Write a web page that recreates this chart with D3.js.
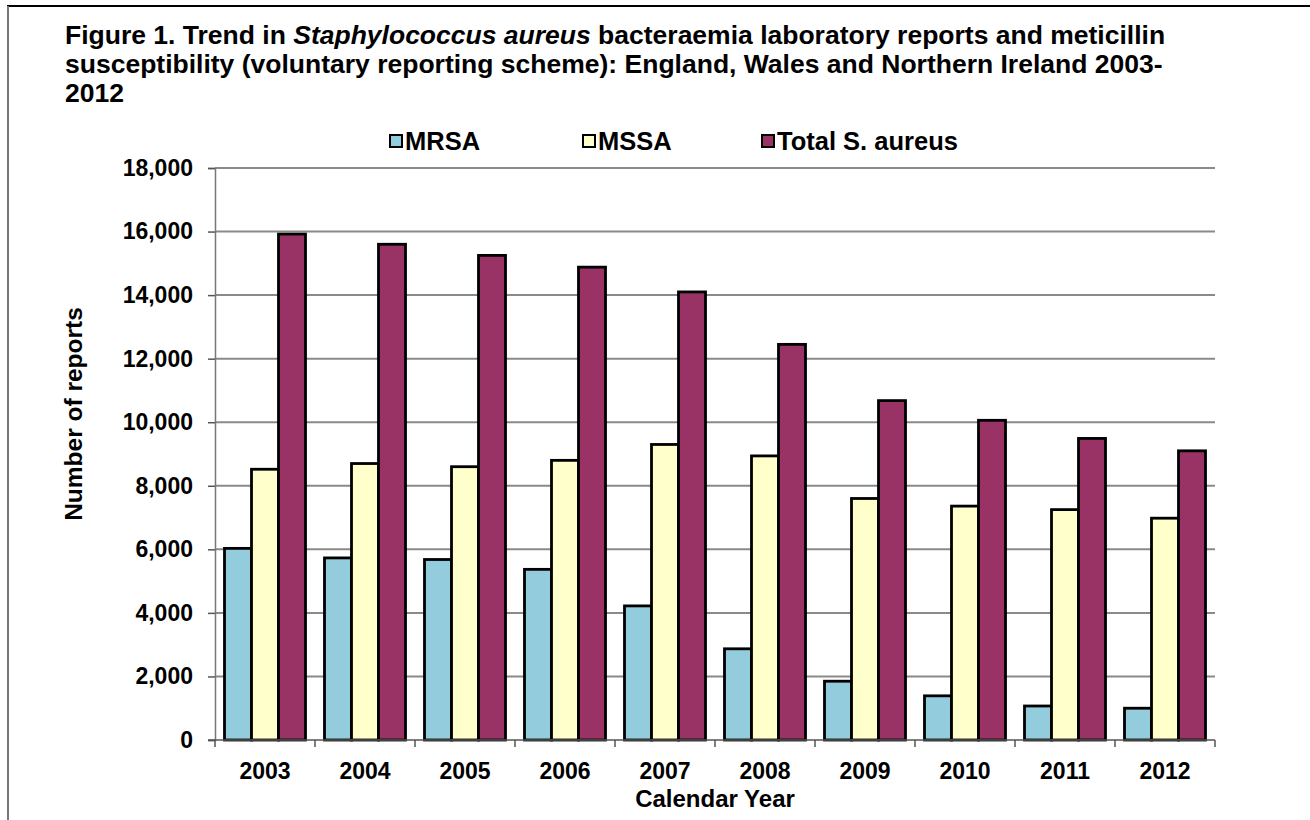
<!DOCTYPE html>
<html>
<head>
<meta charset="utf-8">
<script src="https://cdn.jsdelivr.net/npm/d3@7"></script>
<style>
  body { margin: 0; background: #fff; }
  text { font-family: "Liberation Sans", Arial, sans-serif; font-weight: bold; }
</style>
</head>
<body>
<div id="chart"></div>
<script>
// ---- data ----
const years = ["2003", "2004", "2005", "2006", "2007", "2008", "2009", "2010", "2011", "2012"];
const seriesNames = ["MRSA", "MSSA", "Total S. aureus"];
const mrsa  = [6030, 5730, 5680, 5370, 4220, 2870, 1850, 1390, 1070, 1000];
const mssa  = [8520, 8700, 8600, 8800, 9300, 8940, 7600, 7360, 7250, 6980];
const total = [15920, 15600, 15250, 14880, 14100, 12450, 10680, 10060, 9490, 9100];
const yTicks = [0, 2000, 4000, 6000, 8000, 10000, 12000, 14000, 16000, 18000];
const colors = ["#93cddd", "#ffffcc", "#993366"];

const W = 1310, H = 820;
const margin = {top: 168, right: 95, bottom: 80, left: 215};
const innerW = W - margin.left - margin.right;
const innerH = H - margin.top - margin.bottom;

const svg = d3.select("#chart").append("svg")
    .attr("width", W).attr("height", H);

// outer frame (only top and left edges are inside the picture)
svg.append("line").attr("x1", 7).attr("x2", W).attr("y1", 6).attr("y2", 6)
    .attr("stroke", "#000").attr("stroke-width", 2);
svg.append("line").attr("x1", 8).attr("x2", 8).attr("y1", 6).attr("y2", H)
    .attr("stroke", "#777").attr("stroke-width", 2);

// title
const titleSize = "26.5px";
const title = svg.append("text").attr("x", 65).attr("y", 44).style("font-size", titleSize);
title.append("tspan").text("Figure 1. Trend in ");
title.append("tspan").style("font-style", "italic").text("Staphylococcus aureus");
title.append("tspan").text(" bacteraemia laboratory reports and meticillin");
svg.append("text").attr("x", 65).attr("y", 73).style("font-size", titleSize)
    .text("susceptibility (voluntary reporting scheme): England, Wales and Northern Ireland 2003-");
svg.append("text").attr("x", 65).attr("y", 102).style("font-size", titleSize).text("2012");

const g = svg.append("g").attr("transform", `translate(${margin.left},${margin.top})`);

// scales
const x0 = d3.scaleBand().domain(years).range([0, innerW]).paddingInner(0.19).paddingOuter(0.095);
const x1 = d3.scaleBand().domain(seriesNames).range([0, x0.bandwidth()]);
const y = d3.scaleLinear().domain([0, 18000]).range([innerH, 0]);

// gridlines
g.append("g").selectAll("line")
    .data(yTicks.filter(d => d > 0))
    .join("line")
    .attr("x1", 0).attr("x2", innerW)
    .attr("y1", d => y(d)).attr("y2", d => y(d))
    .attr("stroke", "#8a8a8a").attr("stroke-width", 2);

// bars
const data = years.map((yr, i) => ({year: yr, vals: [mrsa[i], mssa[i], total[i]]}));
g.append("g").selectAll("g")
    .data(data)
    .join("g")
    .attr("transform", d => `translate(${x0(d.year)},0)`)
    .selectAll("rect")
    .data(d => d.vals.map((v, k) => ({k, v})))
    .join("rect")
    .attr("x", d => x1(seriesNames[d.k]))
    .attr("width", x1.bandwidth())
    .attr("y", d => y(d.v))
    .attr("height", d => innerH - y(d.v))
    .attr("fill", d => colors[d.k])
    .attr("stroke", "#000").attr("stroke-width", 2.8);

// y axis
const yAxis = g.append("g")
    .call(d3.axisLeft(y).tickValues(yTicks).tickSize(7).tickPadding(15).tickFormat(d3.format(",")));
yAxis.select(".domain").attr("stroke", "#777").attr("stroke-width", 1.5);
yAxis.selectAll(".tick line").attr("stroke", "#555").attr("stroke-width", 1.5);
yAxis.selectAll("text").style("font-size", "23px").attr("fill", "#000")
    .style("font-family", "'Liberation Sans', Arial, sans-serif");

// x axis with ticks at category boundaries
const xAxis = g.append("g").attr("transform", `translate(0,${innerH})`);
xAxis.append("line").attr("x1", -7).attr("x2", innerW).attr("y1", 0).attr("y2", 0)
    .attr("stroke", "#555").attr("stroke-width", 1.5);
xAxis.selectAll(".xt")
    .data(d3.range(years.length + 1))
    .join("line")
    .attr("class", "xt")
    .attr("x1", i => i * innerW / years.length).attr("x2", i => i * innerW / years.length)
    .attr("y1", 0).attr("y2", 7)
    .attr("stroke", "#555").attr("stroke-width", 1.5);
xAxis.selectAll(".xl")
    .data(years)
    .join("text")
    .attr("class", "xl")
    .attr("x", d => x0(d) + x0.bandwidth() / 2)
    .attr("y", 39)
    .attr("text-anchor", "middle")
    .style("font-size", "23px")
    .text(d => d);

// axis titles
svg.append("text")
    .attr("x", margin.left + innerW / 2).attr("y", 807)
    .attr("text-anchor", "middle").style("font-size", "24px")
    .text("Calendar Year");
svg.append("text")
    .attr("transform", `translate(82,414) rotate(-90)`)
    .attr("text-anchor", "middle").style("font-size", "24.5px")
    .text("Number of reports");

// legend
const legendX = [390, 583, 762];
const lg = svg.append("g").selectAll("g")
    .data(seriesNames)
    .join("g")
    .attr("transform", (d, i) => `translate(${legendX[i]},141)`);
lg.append("rect")
    .attr("x", 0).attr("y", -6).attr("width", 12).attr("height", 12)
    .attr("fill", (d, i) => colors[i]).attr("stroke", "#000").attr("stroke-width", 2);
lg.append("text")
    .attr("x", 15).attr("y", 9)
    .style("font-size", "25.5px")
    .text(d => d);
</script>
</body>
</html>
